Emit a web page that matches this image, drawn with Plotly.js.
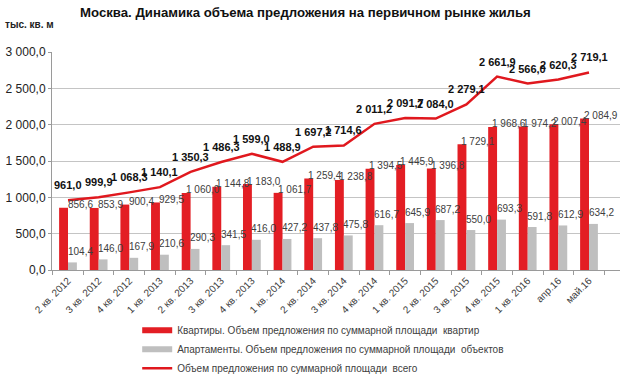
<!DOCTYPE html>
<html><head><meta charset="utf-8">
<script src="https://cdn.plot.ly/plotly-3.0.1.min.js"></script>
<style>html,body{margin:0;padding:0;background:#fff}#chart{width:643px;height:377px}</style>
</head><body><div id="chart"></div>
<script>
const categories = ["2 кв. 2012","3 кв. 2012","4 кв. 2012","1 кв. 2013","2 кв. 2013","3 кв. 2013","4 кв. 2013","1 кв. 2014","2 кв. 2014","3 кв. 2014","4 кв. 2014","1 кв. 2015","2 кв. 2015","3 кв. 2015","4 кв. 2015","1 кв. 2016","апр.16","май.16"];
const flats = [856.6,853.9,900.4,929.5,1060.0,1144.8,1183.0,1061.7,1259.4,1238.8,1394.5,1445.9,1396.8,1729.1,1968.6,1974.2,2007.4,2084.9];
const apartments = [104.4,146.0,167.9,210.6,290.3,341.5,416.0,427.2,437.8,475.8,616.7,645.9,687.2,550.0,693.3,591.8,612.9,634.2];
const total = [961.0,999.9,1068.3,1140.1,1350.3,1486.3,1599.0,1488.9,1697.2,1714.6,2011.2,2091.7,2084.0,2279.1,2661.9,2566.0,2620.3,2719.1];
const seriesNames = ["Квартиры. Объем предложения по суммарной площади  квартир","Апартаменты. Объем предложения по суммарной площади  объектов","Объем предложения по суммарной площади  всего"];

const RED = "#E31E24", GRAY = "#BFBFBF", LINE = "#E0181E";
const FONT = "Liberation Sans, Arial";
function fmt(v){
  const s = v.toFixed(1).split(".");
  const int = s[0].replace(/\B(?=(\d{3})+(?!\d))/g, " ");
  return int + "," + s[1];
}

const traces = [
  {type:"bar", x:categories, y:flats, marker:{color:RED}, showlegend:false, hoverinfo:"skip"},
  {type:"bar", x:categories, y:apartments, marker:{color:GRAY}, showlegend:false, hoverinfo:"skip"},
  {type:"scatter", mode:"lines", x:categories, y:total, line:{color:LINE, width:2.5}, showlegend:false, hoverinfo:"skip"},
  {type:"scatter", mode:"lines", x:[null], y:[null], name:seriesNames[0], line:{color:RED, width:6}},
  {type:"scatter", mode:"lines", x:[null], y:[null], name:seriesNames[1], line:{color:GRAY, width:6}},
  {type:"scatter", mode:"lines", x:[null], y:[null], name:seriesNames[2], line:{color:LINE, width:2.5}}
];

const annotations = [];
categories.forEach((c,i)=>{
  annotations.push({x:c, y:flats[i], xref:"x", yref:"y", text:fmt(flats[i]), showarrow:false, xshift:12, yshift:3, yanchor:"middle", font:{family:FONT, size:10, color:"#404040"}});
  annotations.push({x:c, y:apartments[i], xref:"x", yref:"y", text:fmt(apartments[i]), showarrow:false, xshift:12, yshift:11, yanchor:"middle", font:{family:FONT, size:10, color:"#404040"}});
  annotations.push({x:c, y:total[i], xref:"x", yref:"y", text:"<b>"+fmt(total[i])+"</b>", showarrow:false, xshift:0, yshift:15, yanchor:"middle", font:{family:FONT, size:11, color:"#111"}});
});
annotations.push({xref:"paper", yref:"paper", x:-0.087, y:1.124, xanchor:"left", yanchor:"middle", text:"<b>тыс. кв. м</b>", showarrow:false, font:{family:FONT, size:10, color:"#222"}});

const layout = {
  width:643, height:377,
  margin:{l:52, r:23, t:52, b:107, autoexpand:false},
  paper_bgcolor:"#fff", plot_bgcolor:"#fff",
  separators:", ",
  font:{family:FONT, color:"#222"},
  title:{text:"<b>Москва. Динамика объема предложения на первичном рынке жилья</b>", x:0.475, xanchor:"center", y:0.968, yanchor:"middle", font:{family:FONT, size:13.2, color:"#111"}},
  barmode:"group", bargap:0.42, bargroupgap:0,
  xaxis:{type:"category", tickangle:-45, tickfont:{size:10, color:"#404040"}, showline:true, linecolor:"#9a9a9a", ticks:"outside", ticklen:4, tickcolor:"#9a9a9a", tickson:"boundaries", showgrid:false, fixedrange:true},
  yaxis:{range:[0,3000], dtick:500, tickformat:",.1f", tickfont:{size:12, color:"#222"}, showline:true, linecolor:"#9a9a9a", ticks:"outside", ticklen:3, tickcolor:"#9a9a9a", gridcolor:"#c4c4c4", zeroline:false, fixedrange:true},
  legend:{orientation:"v", x:0.15, xanchor:"left", y:-0.21, yanchor:"top", font:{size:10, color:"#404040"}, itemwidth:30, tracegroupgap:0, bgcolor:"rgba(0,0,0,0)"},
  annotations:annotations
};
Plotly.newPlot("chart", traces, layout, {displayModeBar:false, staticPlot:true});
</script>
</body></html>
